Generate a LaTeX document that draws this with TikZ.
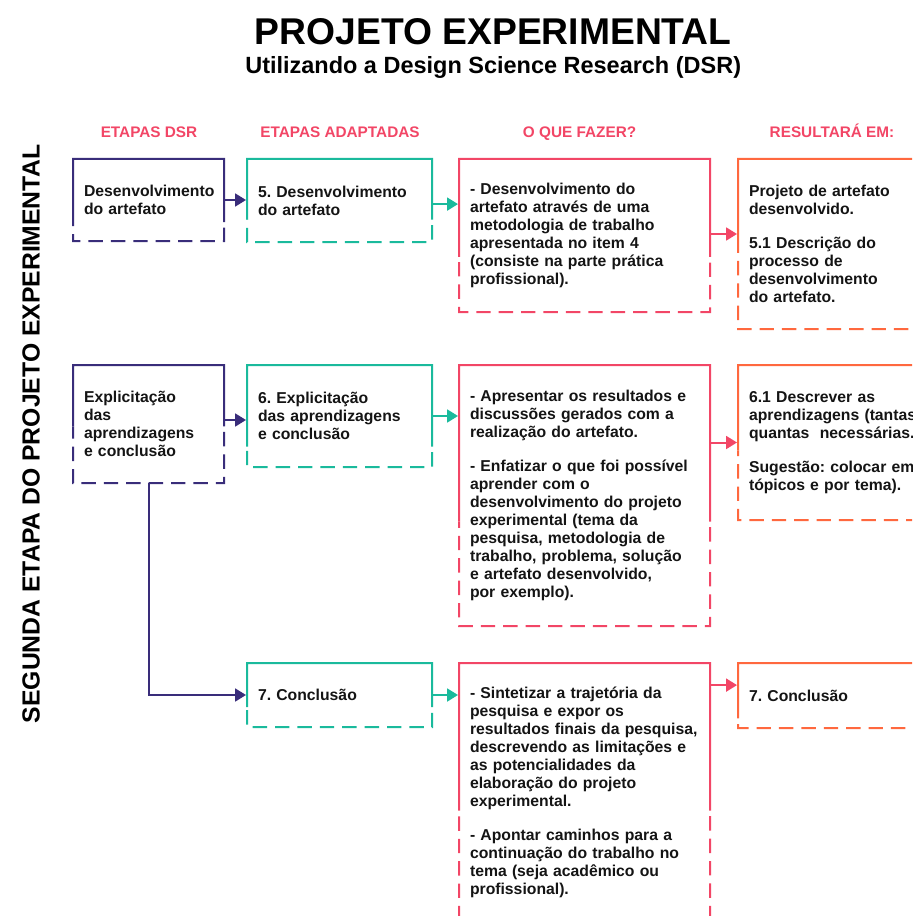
\documentclass[tikz,border=0pt]{standalone}
\usepackage{fontspec}
\setmainfont{Liberation Sans}
\usetikzlibrary{arrows.meta,positioning,calc}
\definecolor{dsrpurple}{RGB}{57,45,122}
\definecolor{dsrteal}{RGB}{26,186,156}
\definecolor{dsrred}{RGB}{242,70,102}
\definecolor{dsrorange}{RGB}{255,104,62}
\definecolor{dsrtext}{RGB}{20,20,20}
\hyphenpenalty=10000
\exhyphenpenalty=10000
\frenchspacing

% frame of a box: solid at the top, dashed towards the bottom
\newcommand{\splitbox}[3]{%
  \draw[#2, line width=0.05cm] ($(#1.north west)!#3!(#1.south west)$) -- (#1.north west)
    -- (#1.north east) -- ($(#1.north east)!#3!(#1.south east)$);
  \draw[#2, line width=0.05cm, dash pattern=on 0.36cm off 0.2cm, dash phase=0.42cm]
    ($(#1.north east)!#3!(#1.south east)$) -- (#1.south east)
    -- (#1.south west) -- ($(#1.north west)!#3!(#1.south west)$);
}

\begin{document}
\begin{tikzpicture}[
    box/.style={anchor=north west, inner xsep=0.275cm, inner ysep=0pt, outer sep=0pt,
                align=left, text=dsrtext, font=\fontsize{11.2}{12.8}\selectfont\bfseries},
    head/.style={anchor=base, font=\fontsize{10.9}{13}\selectfont\bfseries, text=dsrred},
    arr/.style={line width=0.05cm, shorten >=0.025cm, -{Triangle[length=0.27cm, width=0.32cm]}}
  ]
    \useasboundingbox (0,0) rectangle (22.8,-22.9);
    \clip (0,0) rectangle (22.8,-22.9);
    % Title
    \node[font=\fontsize{26.5}{30}\selectfont\bfseries] (title) at (12.33,-0.8)
      {PROJETO EXPERIMENTAL};
    \node[font=\fontsize{16.7}{20}\selectfont\bfseries] (subtitle) at (12.33,-1.69)
      {Utilizando a Design Science Research (DSR)};
    \node[font=\fontsize{17.6}{20}\selectfont\bfseries, rotate=90] (side) at (0.775,-10.85)
      {SEGUNDA ETAPA DO PROJETO EXPERIMENTAL};
    % Column heads
    \node[head] (hdsr)  at (3.725,-3.44) {ETAPAS DSR};
    \node[head] (hadap) at (8.5,-3.44)   {ETAPAS ADAPTADAS};
    \node[head] (hwhat) at (14.49,-3.44) {O QUE FAZER?};
    \node[head] (hres)  at (20.8,-3.44)  {RESULTARÁ EM:};
    % Etapas DSR
    \node[box, text width=3.225cm, minimum height=2.05cm] (d1) at (1.825,-3.975)
      {Desenvolvimento\\do artefato};
    \node[box, text width=3.225cm, minimum height=2.95cm] (d2) at (1.825,-9.125)
      {Explicitação\\das\\aprendizagens\\e conclusão};
    % Etapas adaptadas
    \node[box, text width=4.075cm, minimum height=2.075cm] (a1) at (6.175,-3.975)
      {5. Desenvolvimento\\do artefato};
    \node[box, text width=4.075cm, minimum height=2.55cm] (a2) at (6.175,-9.125)
      {6. Explicitação\\das aprendizagens\\e conclusão};
    \node[box, text width=4.075cm, minimum height=1.6cm] (a3) at (6.175,-16.575)
      {7. Conclusão};
    % O que fazer
    \node[box, text width=5.725cm, minimum height=3.825cm] (w1) at (11.475,-3.975)
      {- Desenvolvimento do\\artefato através de uma\\metodologia de trabalho\\apresentada no item 4\\(consiste na parte prática\\profissional).};
    \node[box, text width=5.725cm, minimum height=6.525cm] (w2) at (11.475,-9.125)
      {- Apresentar os resultados e\\discussões gerados com a\\realização do artefato.\\[0.4cm]
       - Enfatizar o que foi possível\\aprender com o\\desenvolvimento do projeto\\experimental (tema da\\pesquisa, metodologia de\\trabalho, problema, solução\\e artefato desenvolvido,\\por exemplo).};
    \node[box, text width=5.725cm, minimum height=6.475cm] (w3) at (11.475,-16.575)
      {- Sintetizar a trajetória da\\pesquisa e expor os\\resultados finais da pesquisa,\\descrevendo as limitações e\\as potencialidades da\\elaboração do projeto\\experimental.\\[0.4cm]
       - Apontar caminhos para a\\continuação do trabalho no\\tema (seja acadêmico ou\\profissional).};
    % Resultara em
    \node[box, text width=4.65cm, minimum height=4.25cm] (r1) at (18.45,-3.975)
      {Projeto de artefato\\desenvolvido.\\[0.4cm]5.1 Descrição do\\processo de\\desenvolvimento\\do artefato.};
    \node[box, text width=4.65cm, minimum height=3.875cm] (r2) at (18.45,-9.125)
      {6.1 Descrever as\\aprendizagens (tantas\\quantas\ \ necessárias.\\[0.4cm]Sugestão: colocar em\\tópicos e por tema).};
    \node[box, text width=4.65cm, minimum height=1.625cm] (r3) at (18.45,-16.575)
      {7. Conclusão};
    % Frames
    \splitbox{d1}{dsrpurple}{0.77}
    \splitbox{d2}{dsrpurple}{0.52}
    \splitbox{a1}{dsrteal}{0.73}
    \splitbox{a2}{dsrteal}{0.8}
    \splitbox{a3}{dsrteal}{0.69}
    \splitbox{w1}{dsrred}{0.64}
    \splitbox{w2}{dsrred}{0.6}
    \splitbox{w3}{dsrred}{0.57}
    \splitbox{r1}{dsrorange}{0.53}
    \splitbox{r2}{dsrorange}{0.55}
    \splitbox{r3}{dsrorange}{0.85}
    % Arrows
    \draw[arr, dsrpurple] (d1.east) -- (d1.east -| a1.west);
    \draw[arr, dsrteal] ([yshift=-0.09cm]a1.east) -- ([yshift=-0.09cm]a1.east -| w1.west);
    \draw[arr, dsrred] ([yshift=0.25cm]r1.west -| w1.east) -- ([yshift=0.25cm]r1.west);
    \draw[arr, dsrpurple] ([yshift=0.1cm]d2.east) -- ([yshift=0.1cm]d2.east -| a2.west);
    \draw[arr, dsrteal] (a2.east) -- (a2.east -| w2.west);
    \draw[arr, dsrred] (r2.west -| w2.east) -- (r2.west);
    \draw[arr, dsrpurple] (d2.south) |- (a3.west);
    \draw[arr, dsrteal] (a3.east) -- (a3.east -| w3.west);
    \draw[arr, dsrred] ([yshift=0.26cm]r3.west -| w3.east) -- ([yshift=0.26cm]r3.west);
\end{tikzpicture}
\end{document}
